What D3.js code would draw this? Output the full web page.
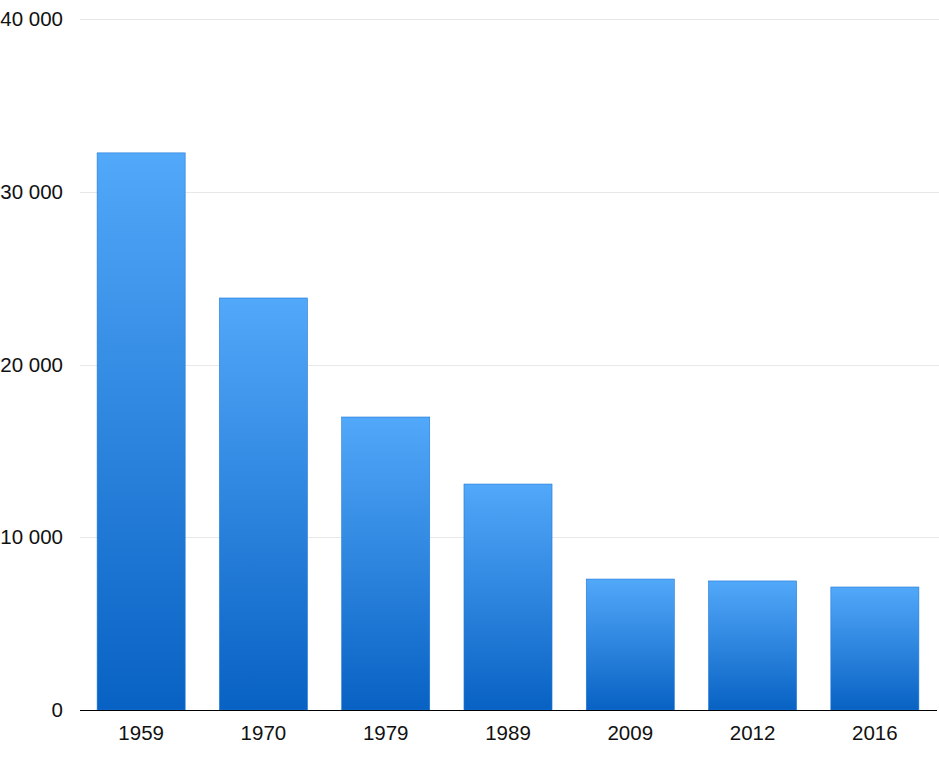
<!DOCTYPE html>
<html><head><meta charset="utf-8">
<script src="https://cdn.jsdelivr.net/npm/d3@7"></script>
<style>body{margin:0;background:#fff}svg{display:block}</style>
</head><body><svg id="c" width="939" height="765"></svg>
<script>
const categories = ["1959","1970","1979","1989","2009","2012","2016"];
const values = [32250, 23850, 16960, 13080, 7580, 7470, 7120];
const yTicks = [0, 10000, 20000, 30000, 40000];
const yTickLabels = ["0","10 000","20 000","30 000","40 000"];

const svg = d3.select("#c");
const x = d3.scaleBand().domain(categories).range([80, 936]).paddingInner(0.28).paddingOuter(0.14);
const y = d3.scaleLinear().domain([0, 40000]).range([710, 19]);

const defs = svg.append("defs");
const g = defs.append("linearGradient").attr("id","bg").attr("x1",0).attr("y1",0).attr("x2",0).attr("y2",1);
g.append("stop").attr("offset","0%").attr("stop-color","#52a8f9");
g.append("stop").attr("offset","100%").attr("stop-color","#0862c3");

svg.append("g").selectAll("line").data(yTicks.slice(1)).join("line")
  .attr("x1",80).attr("x2",939).attr("y1",d=>Math.round(y(d))+0.5).attr("y2",d=>Math.round(y(d))+0.5)
  .attr("stroke","#e8e8e8").attr("stroke-width",1);

svg.append("g").selectAll("text").data(yTicks).join("text")
  .attr("x",63).attr("y",d=>y(d)+7).attr("text-anchor","end")
  .attr("font-family","Liberation Sans, Arial, sans-serif").attr("font-size",20.5).attr("fill","#111")
  .text((d,i)=>yTickLabels[i]);

svg.append("g").selectAll("rect").data(values).join("rect")
  .attr("x",(d,i)=>x(categories[i])).attr("width",x.bandwidth())
  .attr("y",d=>y(d)).attr("height",d=>y(0)-y(d))
  .attr("fill","url(#bg)").attr("stroke","#1e78d8").attr("stroke-width",0.6);

svg.append("line").attr("x1",80).attr("x2",937).attr("y1",710.5).attr("y2",710.5).attr("stroke","#000").attr("stroke-width",1);

svg.append("g").selectAll("text").data(categories).join("text")
  .attr("x",d=>x(d)+x.bandwidth()/2).attr("y",740).attr("text-anchor","middle")
  .attr("font-family","Liberation Sans, Arial, sans-serif").attr("font-size",20.5).attr("fill","#111")
  .text(d=>d);
</script></body></html>
